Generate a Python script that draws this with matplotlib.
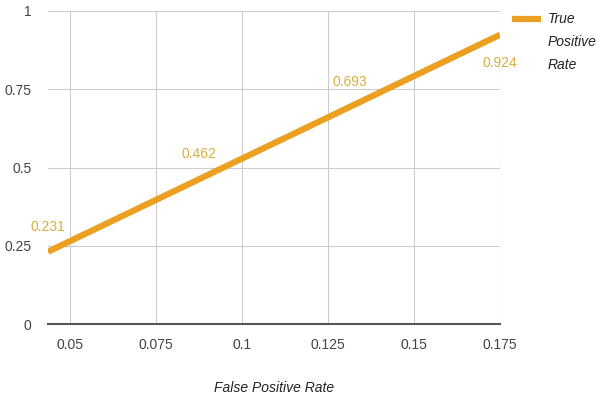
import matplotlib.pyplot as plt
from matplotlib.lines import Line2D

plt.rcParams['font.family'] = ['Liberation Sans', 'DejaVu Sans']

fpr = [0.04375, 0.0875, 0.13125, 0.175]
tpr = [0.231, 0.462, 0.693, 0.924]
x_ticks = [0.05, 0.075, 0.1, 0.125, 0.15, 0.175]
x_labels = ['0.05', '0.075', '0.1', '0.125', '0.15', '0.175']
y_ticks = [0, 0.25, 0.5, 0.75, 1]
y_labels = ['0', '0.25', '0.5', '0.75', '1']
legend_lines = ['True', 'Positive', 'Rate']

line_col = '#eba021'
lab_col = '#d9ae3c'

fig = plt.figure(figsize=(5.96, 3.99), dpi=100)
ax = fig.add_axes([48/596, 1 - 324/399, 452/596, 313/399])
ax.plot(fpr, tpr, color=line_col, lw=4.5, solid_capstyle='butt', zorder=3)

# point labels, last one goes under the point
for i, (x, y) in enumerate(zip(fpr, tpr)):
    dy = -20 if i == len(tpr) - 1 else 18
    ax.annotate(f'{y:g}', (x, y), xytext=(0, dy), textcoords='offset points',
                ha='center', va='center', color=lab_col, fontsize=10)

ax.set_xlim(0.04375, 0.175)
ax.set_ylim(0, 1)
ax.set_xticks(x_ticks)
ax.set_xticklabels(x_labels)
ax.set_yticks(y_ticks)
ax.set_yticklabels(y_labels)
ax.tick_params(length=0, colors='#444444', labelsize=10)
ax.tick_params(axis='x', pad=10)
ax.tick_params(axis='y', pad=12)
ax.grid(color='#cccccc', lw=0.8)
ax.set_axisbelow(True)
for s in ['top', 'right', 'left']:
    ax.spines[s].set_visible(False)
ax.spines['bottom'].set_color('#555555')
ax.spines['bottom'].set_linewidth(1.5)
ax.spines['bottom'].set_zorder(4)

ax.set_xlabel('False Positive Rate', fontstyle='italic', fontsize=10, color='#222222', labelpad=21)

# legend drawn by hand: handle beside first line of wrapped text
fig.add_artist(Line2D([512/596, 541/596], [1 - 19/399] * 2, color=line_col, lw=4.5,
                      solid_capstyle='butt'))
for k, t in enumerate(legend_lines):
    fig.text(548/596, 1 - (19 + 23 * k)/399, t, fontstyle='italic', fontsize=10,
             color='#222222', va='center', ha='left')

fig.savefig('out.png', dpi=100)
